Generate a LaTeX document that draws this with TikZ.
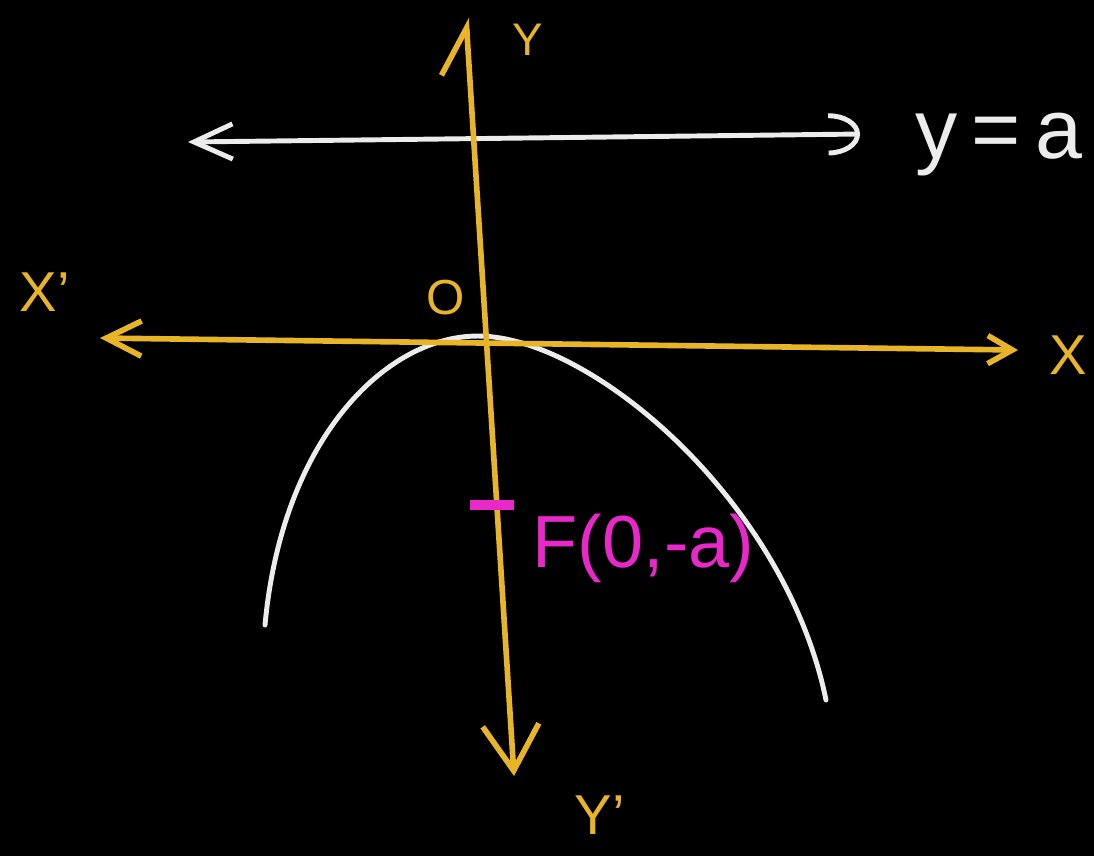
\documentclass[tikz,border=0pt]{standalone}
\usepackage{fontspec}
\setmainfont{Liberation Sans}
\usepackage{tikz}
\usetikzlibrary{arrows.meta, positioning}

\definecolor{axisyel}{RGB}{232,180,40}
\definecolor{chalk}{RGB}{236,236,236}
\definecolor{focuspink}{RGB}{232,40,200}

\begin{document}
\begin{tikzpicture}[x=0.01cm, y=-0.01cm,
    axis/.style={draw=axisyel, line width=1.6pt, line cap=round},
    chalkline/.style={draw=chalk, line width=1.4pt, line cap=round},
    ylbl/.style={text=axisyel, inner sep=0pt},
    wlbl/.style={text=chalk, inner sep=0pt}
  ]
  % black board
  \fill[black] (0,0) rectangle (1094,856);
  \useasboundingbox (0,0) rectangle (1094,856);

  % axes end points
  \coordinate (ytop) at (466,18);
  \coordinate (ybot) at (514,776);
  \coordinate (xl) at (100,338);
  \coordinate (xr) at (1018,350);
  \coordinate (orig) at (478,338);

  % directrix end points
  \coordinate (dl) at (188,142);
  \coordinate (dr) at (860,134);

  % parabola: vertex and branch ends
  \coordinate (vtx) at (478,336);
  \coordinate (pl) at (265,625);
  \coordinate (pr) at (826,700);

  % focus tick
  \coordinate (fa) at (470,505);
  \coordinate (fb) at (514,505);

  % directrix y = a
  \draw[chalkline, {Straight Barb[length=11pt, width=10pt, line width=1.4pt]}-{Arc Barb[length=9pt, width=12pt, line width=1.4pt]}] (dl) -- (dr);

  % parabola
  \draw[chalkline] (pl) .. controls (282,440) and (385,336) .. (vtx)
                        .. controls (590,336) and (785,500) .. (pr);

  % axes
  \draw[axis, {Straight Barb[length=10pt, width=10pt, line width=1.6pt]}-{Straight Barb[length=7pt, width=8pt, line width=1.6pt]}] (xl) -- (xr);
  \draw[axis, {Straight Barb[left, length=13pt, width=16pt, line width=1.6pt]}-{Straight Barb[length=13pt, width=16pt, line width=1.6pt]}] (ytop) -- (ybot);

  % focus
  \draw[draw=focuspink, line width=2.6pt] (fa) -- (fb);
  \node[text=focuspink, inner sep=0pt, anchor=west, font=\fontsize{21}{24}\selectfont] (flbl) at (532,548) {F(0,-a)};

  % labels
  \node[ylbl, font=\fontsize{13}{16}\selectfont] (ylab) at (528,40) {Y};
  \node[ylbl, font=\fontsize{16}{19}\selectfont] (y2lab) at (600,815) {Y'};
  \node[ylbl, font=\fontsize{16}{19}\selectfont] (xlab) at (1068,355) {X};
  \node[ylbl, font=\fontsize{16}{19}\selectfont] (x2lab) at (45,292) {X'};
  \node[ylbl, font=\fontsize{14}{17}\selectfont] (olab) at (446,298) {O};
  \node[wlbl, font=\fontsize{24}{28}\selectfont, anchor=west] (dlab) at (915,145) {y\,=\,a};
\end{tikzpicture}
\end{document}
